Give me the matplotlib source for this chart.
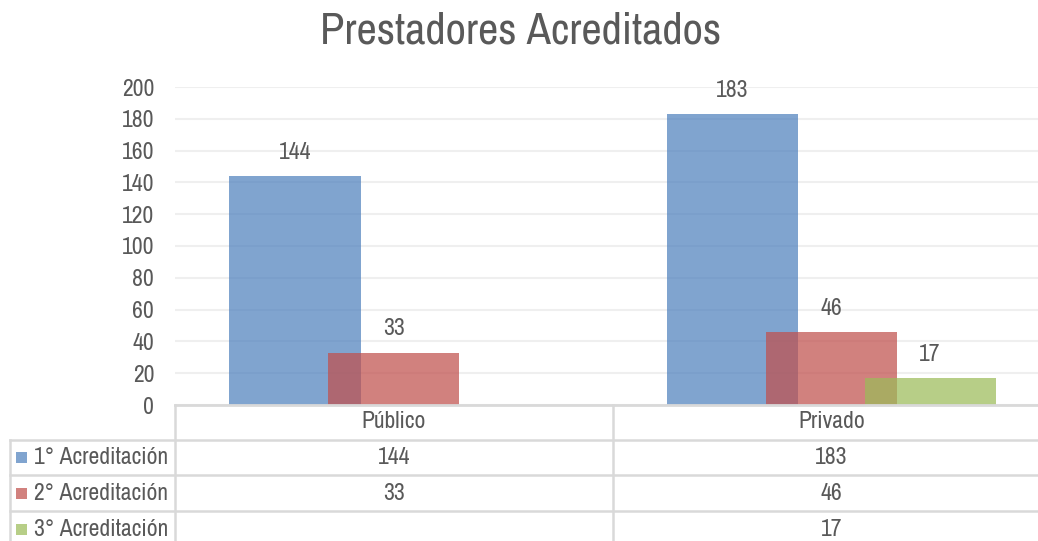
import numpy as np
import matplotlib.pyplot as plt
import matplotlib.transforms as mtransforms
from matplotlib import font_manager

categories = ['Público', 'Privado']
series_names = ['1° Acreditación', '2° Acreditación', '3° Acreditación']
serie_1 = [144, 183]
serie_2 = [33, 46]
serie_3 = [None, 17]
series = [serie_1, serie_2, serie_3]
colors = ['#4F81BD', '#C0504D', '#9BBB59']
yticks = np.arange(0, 201, 20)

# look for a narrow face, otherwise Roboto
names = sorted({f.name for f in font_manager.fontManager.ttflist})
narrow = [n for n in names if 'Narrow' in n or 'Condensed' in n]
main_font = narrow[0] if narrow else 'Roboto'
plt.rcParams['font.family'] = [main_font, 'DejaVu Sans']
fs = 17 if narrow else 14
title_fs = 32 if narrow else 25
txt = '#595959'
grid_c = '#D9D9D9'

W, H = 1038, 541
fig = plt.figure(figsize=(W / 100, H / 100), dpi=100)

# main plot, pixel box: x 175..1050, y 87..405
ax = fig.add_axes([175 / W, 1 - 405 / H, 875 / W, (405 - 87) / H])
x = np.arange(len(categories))
width = 0.30
offsets = [-0.226, 0.0, 0.226]
for vals, off, col in zip(series, offsets, colors):
    for xi, v in zip(x, vals):
        if v is None:
            continue
        ax.bar(xi + off, v, width, color=col, alpha=0.72, linewidth=0, zorder=3)
        ax.text(xi + off, v + 15, str(v), ha='center', va='center',
                fontsize=fs, color=txt, zorder=4)

ax.set_xlim(-0.5, 1.5)
ax.set_ylim(0, 200)
ax.set_yticks(yticks)
ax.set_xticks([])
ax.tick_params(axis='y', length=0, labelsize=fs, labelcolor=txt, pad=15)
ax.grid(axis='y', color='#EFEFEF', linewidth=1.5, zorder=0)
for s in ['top', 'right', 'left']:
    ax.spines[s].set_visible(False)
ax.spines['bottom'].set_color(grid_c)
ax.spines['bottom'].set_linewidth(2)
ax.spines['bottom'].set_zorder(5)

fig.text(521 / W, 1 - 32 / H, 'Prestadores Acreditados', ha='center', va='center',
         fontsize=title_fs, color=txt)

# data table below in pixel coordinates
ov = fig.add_axes([0, 0, 1, 1])
ov.set_xlim(0, W)
ov.set_ylim(H, 0)
ov.axis('off')
ov.patch.set_alpha(0)
mix = mtransforms.blended_transform_factory(ax.transData, ov.transData)

lc = dict(color=grid_c, linewidth=1.8)
ov.plot([175, 175], [405, H], **lc)
ov.plot([613, 613], [405, H], **lc)
ov.plot([10, 10], [440, H], **lc)
for yy in [440, 475, 511]:
    ov.plot([10, 1050], [yy, yy], **lc)

row_y = [457, 493, 529]
for i, cat in enumerate(categories):
    ov.text(i, 422, cat, transform=mix, ha='center', va='center', fontsize=fs, color=txt)
    for vals, yy in zip(series, row_y):
        if vals[i] is not None:
            ov.text(i, yy, str(vals[i]), transform=mix, ha='center', va='center',
                    fontsize=fs, color=txt)

for name, col, yy in zip(series_names, colors, row_y):
    ov.add_patch(plt.Rectangle((16, yy - 5.5), 11, 11, color=col, alpha=0.72, linewidth=0))
    ov.text(34, yy, name, ha='left', va='center', fontsize=fs, color=txt)

fig.savefig('out.png', dpi=100)
